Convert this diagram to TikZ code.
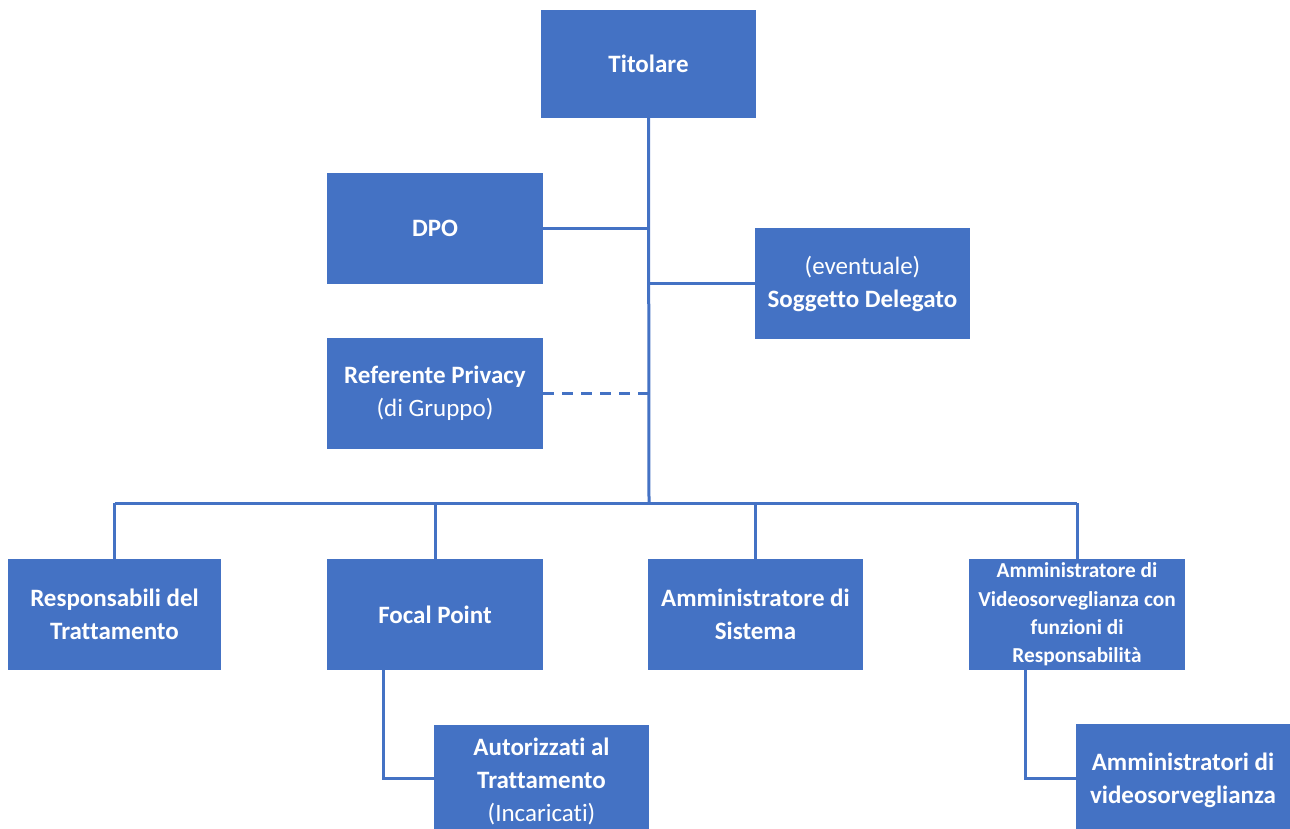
\documentclass[tikz,border=0pt]{standalone}
\usepackage{fontspec}
\setmainfont[Ligatures=NoCommon]{Carlito}
\definecolor{bl}{HTML}{4472C4}
\newcommand{\bx}[6]{\node[box, minimum width={(#4-#2)*1pt}, minimum height={(#5-#3)*1pt}] (#1) at ({(#2+#4)/2},{(#3+#5)/2}) {#6};}
\begin{document}
\begin{tikzpicture}[x=1pt,y=-1pt,
  box/.style={fill=bl, text=white, font=\bfseries\fontsize{25}{33}\selectfont, align=center, inner sep=0pt},
  small/.style={font=\bfseries\fontsize{21.3}{28.3}\selectfont},
  ln/.style={draw=bl, line width=3pt}]
\useasboundingbox (0,0) rectangle (1290,829);
\bx{tit}{541}{10}{756}{118}{Titolare}
\bx{dpo}{327}{173}{543}{284}{DPO}
\bx{sog}{755}{228}{970}{339}{\mdseries(eventuale)\\Soggetto Delegato}
\bx{ref}{327}{338}{543}{449}{Referente Privacy\\\mdseries(di Gruppo)}
\bx{resp}{8}{559}{221}{670}{Responsabili del\\Trattamento}
\bx{foc}{327}{559}{543}{670}{Focal Point}
\bx{sys}{648}{559}{863}{670}{Amministratore di\\Sistema}
\node[box, small, minimum width=216pt, minimum height=111pt] (vid) at (1077,614.5) {Amministratore di\\Videosorveglianza con\\funzioni di\\Responsabilità};
\node[box, minimum width=215pt, minimum height=110pt, text depth=0pt] (aut) at (541.5,780) {Autorizzati al\\Trattamento\\\mdseries(Incaricati)};
\bx{adm}{1076}{724}{1290}{836}{Amministratori di\\videosorveglianza}
\coordinate (bus) at (649,503);
\coordinate (fe) at (383,778);
\coordinate (ve) at (1025,778);
\draw[ln] (tit.south) -- (bus);
\draw[ln] (dpo.east) -- (dpo.east -| bus);
\draw[ln] (sog.west) -- (sog.west -| bus);
\draw[ln, dash pattern=on 11pt off 8pt] (ref.east) -- (ref.east -| bus);
\draw[ln] (resp.north |- bus) -- (vid.north |- bus);
\foreach \n in {resp,foc,sys,vid} \draw[ln] (\n.north) -- (\n.north |- bus);
\draw[ln] (foc.south -| fe) -- (fe) -- (aut.west |- fe);
\draw[ln] (vid.south -| ve) -- (ve) -- (adm.west |- ve);
\end{tikzpicture}
\end{document}
